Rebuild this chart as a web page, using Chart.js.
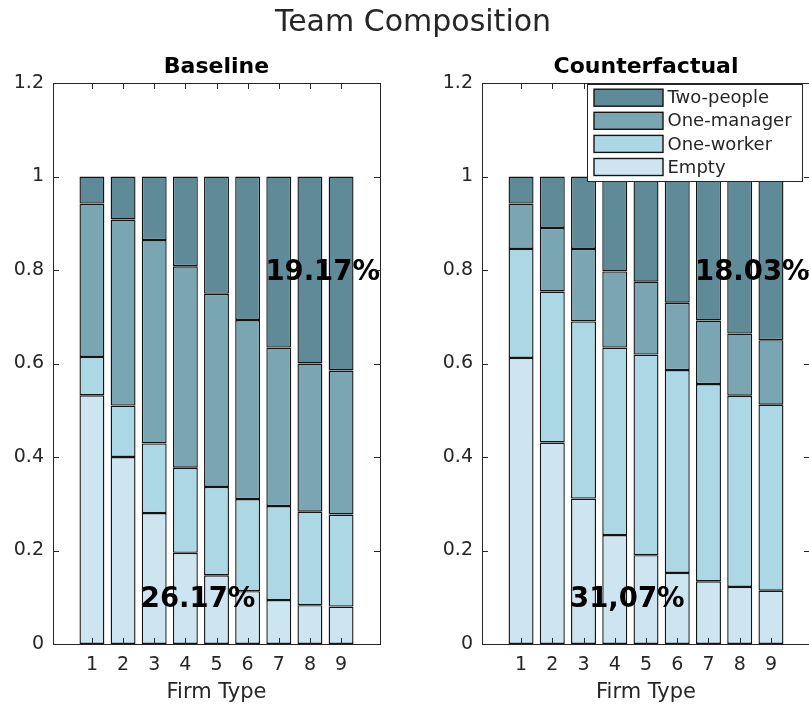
<!DOCTYPE html>
<html>
<head>
<meta charset="utf-8">
<script src="https://cdn.jsdelivr.net/npm/chart.js@4/dist/chart.umd.min.js"></script>
<style>
  html, body { margin: 0; padding: 0; background: #fff; }
  #fig { position: relative; width: 809px; height: 706px; overflow: hidden; background: #fff; }
  #suptitle { position: absolute; left: 0; top: 3px; width: 826px; line-height: 35px; text-align: center;
              font: 30px "DejaVu Sans", sans-serif; color: #262626; }
  #wrapA { position: absolute; left: 0; top: 0; width: 429px; height: 706px; }
  #wrapB { position: absolute; left: 429px; top: 0; width: 381px; height: 706px; }
</style>
</head>
<body>
<div id="fig">
  <div id="wrapA"><canvas id="cA" width="429" height="706"></canvas></div>
  <div id="wrapB"><canvas id="cB" width="381" height="706"></canvas></div>
  <div id="suptitle">Team Composition</div>
</div>
<script>
// Firm types on the horizontal axis
const firmTypes = [1, 2, 3, 4, 5, 6, 7, 8, 9];
const yTicks = [0, 0.2, 0.4, 0.6, 0.8, 1, 1.2];

// Share of teams by composition, Baseline
const baseEmpty   = [0.532, 0.400, 0.280, 0.195, 0.147, 0.113, 0.094, 0.083, 0.080];
const baseWorker  = [0.082, 0.110, 0.149, 0.182, 0.189, 0.197, 0.201, 0.200, 0.197];
const baseManager = [0.328, 0.398, 0.435, 0.431, 0.413, 0.383, 0.339, 0.317, 0.308];
const baseTwo     = [0.058, 0.092, 0.136, 0.192, 0.251, 0.307, 0.366, 0.400, 0.415];

// Share of teams by composition, Counterfactual
const cfEmpty   = [0.612, 0.431, 0.311, 0.233, 0.190, 0.152, 0.134, 0.122, 0.114];
const cfWorker  = [0.233, 0.323, 0.379, 0.401, 0.429, 0.434, 0.422, 0.409, 0.398];
const cfManager = [0.097, 0.136, 0.155, 0.163, 0.156, 0.144, 0.136, 0.133, 0.138];
const cfTwo     = [0.058, 0.110, 0.155, 0.203, 0.225, 0.270, 0.308, 0.336, 0.350];

// Composition labels (bottom to top)
const seriesNames = ['Empty', 'One-worker', 'One-manager', 'Two-people'];
const seriesColors = ['#cde5f0', '#acd7e4', '#7aa6b3', '#5f8b98'];

// Aggregate share annotations
const baseNotes = ['26.17%', '19.17%'];
const cfNotes   = ['31,07%', '18.03%'];
const noteX = [2.57, 6.57];
const noteY = [0.1, 0.8];

const FONT = '"DejaVu Sans", sans-serif';
const AXIS = '#262626';
const EDGE = '#141414';

function makeDatasets(series) {
  return series.map((vals, k) => ({
    label: seriesNames[k],
    data: firmTypes.map((f, i) => ({ x: f, y: vals[i] })),
    backgroundColor: seriesColors[k],
    borderColor: EDGE,
    borderWidth: 1.4,
    borderSkipped: false,
    barPercentage: 0.8,
    categoryPercentage: 1.0
  }));
}

// Box, inward ticks, panel title, annotations and optional legend
function panelPlugin(title, notes, withLegend) {
  return {
    id: 'panel',
    afterDatasetsDraw(chart) {
      const { ctx, chartArea: a, scales: { x, y } } = chart;
      ctx.save();
      // annotations
      ctx.fillStyle = '#000';
      ctx.font = 'bold 27.5px ' + FONT;
      ctx.textAlign = 'left';
      ctx.textBaseline = 'middle';
      notes.forEach((t, i) => ctx.fillText(t, x.getPixelForValue(noteX[i]), y.getPixelForValue(noteY[i]) + 3));

      // frame and ticks
      ctx.strokeStyle = AXIS;
      ctx.lineWidth = 1;
      ctx.strokeRect(Math.round(a.left) + 0.5, Math.round(a.top) + 0.5,
                     Math.round(a.right - a.left), Math.round(a.bottom - a.top));
      const tl = 6;
      ctx.beginPath();
      yTicks.forEach(v => {
        const py = Math.round(y.getPixelForValue(v)) + 0.5;
        ctx.moveTo(a.left, py); ctx.lineTo(a.left + tl, py);
        ctx.moveTo(a.right, py); ctx.lineTo(a.right - tl, py);
      });
      firmTypes.forEach(v => {
        const px = Math.round(x.getPixelForValue(v)) + 0.5;
        ctx.moveTo(px, a.bottom); ctx.lineTo(px, a.bottom - tl);
        ctx.moveTo(px, a.top); ctx.lineTo(px, a.top + tl);
      });
      ctx.stroke();

      // panel title
      ctx.fillStyle = '#000';
      ctx.font = 'bold 22px ' + FONT;
      ctx.textAlign = 'center';
      ctx.textBaseline = 'middle';
      ctx.fillText(title, (a.left + a.right) / 2, a.top - 16);

      if (withLegend) {
        const lw = 215, lh = 97;
        const lx = a.right - 8 - lw, ly = a.top + 1;
        ctx.fillStyle = '#fff';
        ctx.fillRect(lx, ly, lw, lh);
        ctx.strokeStyle = AXIS;
        ctx.lineWidth = 1;
        ctx.strokeRect(Math.round(lx) + 0.5, Math.round(ly) + 0.5, lw, lh);
        const ds = chart.data.datasets.slice().reverse();
        ds.forEach((d, i) => {
          const cy = ly + 13.7 + i * 23.1;
          ctx.fillStyle = d.backgroundColor;
          ctx.fillRect(lx + 7, cy - 8.5, 69, 17);
          ctx.strokeStyle = EDGE;
          ctx.lineWidth = 1.4;
          ctx.strokeRect(lx + 7, cy - 8.5, 69, 17);
          ctx.fillStyle = AXIS;
          ctx.font = '18px ' + FONT;
          ctx.textAlign = 'left';
          ctx.textBaseline = 'middle';
          ctx.fillText(d.label, lx + 80.5, cy + 1);
        });
      }
      ctx.restore();
    }
  };
}

function makeChart(id, series, title, notes, withLegend, padRight) {
  return new Chart(document.getElementById(id), {
    type: 'bar',
    data: { datasets: makeDatasets(series) },
    options: {
      responsive: false,
      animation: false,
      devicePixelRatio: 1,
      layout: { padding: { left: 0, right: padRight, top: 83, bottom: 0 } },
      plugins: { legend: { display: false }, tooltip: { enabled: false }, title: { display: false } },
      scales: {
        x: {
          type: 'linear', stacked: true, offset: false, min: -0.25, max: 10.25,
          afterBuildTicks: s => { s.ticks = firmTypes.map(v => ({ value: v })); },
          afterFit: s => { s.height = 62; },
          grid: { display: false, drawTicks: false, offset: false },
          border: { display: false },
          ticks: { padding: 10, autoSkip: false, maxRotation: 0, color: AXIS,
                   font: { family: FONT, size: 19 }, callback: v => String(v) },
          title: { display: true, text: 'Firm Type', color: AXIS,
                   font: { family: FONT, size: 21 }, padding: { top: 0, bottom: 1 } }
        },
        y: {
          stacked: true, min: 0, max: 1.2,
          afterBuildTicks: s => { s.ticks = yTicks.map(v => ({ value: v })); },
          afterFit: s => { s.width = 53; },
          grid: { display: false, drawTicks: false },
          border: { display: false },
          ticks: { padding: 9, color: AXIS, font: { family: FONT, size: 19 },
                   callback: v => String(Math.round(v * 10) / 10) }
        }
      }
    },
    plugins: [panelPlugin(title, notes, withLegend)]
  });
}

makeChart('cA', [baseEmpty, baseWorker, baseManager, baseTwo], 'Baseline', baseNotes, false, 49);
makeChart('cB', [cfEmpty, cfWorker, cfManager, cfTwo], 'Counterfactual', cfNotes, true, 0);
</script>
</body>
</html>
